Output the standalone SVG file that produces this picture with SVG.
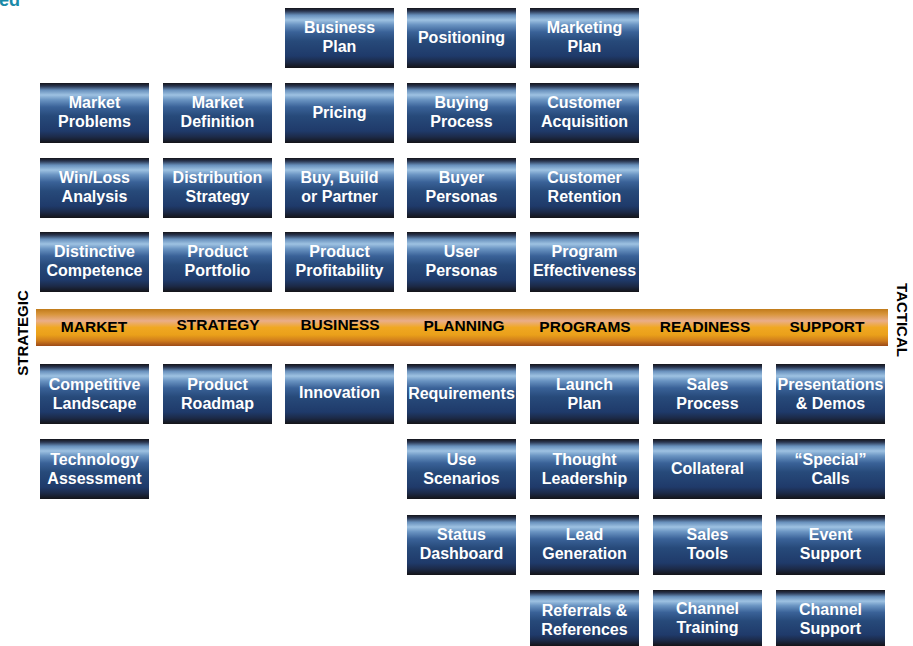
<svg xmlns="http://www.w3.org/2000/svg" width="913" height="646" viewBox="0 0 913 646">
  <defs>
    <linearGradient id="tile" x1="0" y1="0" x2="0" y2="1">
      <stop offset="0" stop-color="#14141a"/>
      <stop offset="0.05" stop-color="#28344e"/>
      <stop offset="0.12" stop-color="#6890bc"/>
      <stop offset="0.2" stop-color="#9ec2e2"/>
      <stop offset="0.28" stop-color="#6a94c2"/>
      <stop offset="0.4" stop-color="#3a6298"/>
      <stop offset="0.55" stop-color="#274a7a"/>
      <stop offset="0.8" stop-color="#1f3a6a"/>
      <stop offset="0.9" stop-color="#1c2a48"/>
      <stop offset="1" stop-color="#141418"/>
    </linearGradient>
    <linearGradient id="band" x1="0" y1="0" x2="0" y2="1">
      <stop offset="0" stop-color="#c07a1a"/>
      <stop offset="0.14" stop-color="#d8953c"/>
      <stop offset="0.32" stop-color="#eaae8a"/>
      <stop offset="0.5" stop-color="#f0a822"/>
      <stop offset="0.7" stop-color="#eaa01a"/>
      <stop offset="0.86" stop-color="#cf7c1c"/>
      <stop offset="1" stop-color="#9c4a18"/>
    </linearGradient>
  </defs>
  <style>
    .tile { fill: url(#tile); }
    .edge { fill: #5aa8d8; opacity: 0.5; }
    .lbl { font-family: "Liberation Sans", Arial, sans-serif; font-weight: bold; font-size: 16px; fill: #ffffff; text-anchor: middle; }
    .cat { font-family: "Liberation Sans", Arial, sans-serif; font-weight: bold; font-size: 15.5px; fill: #000000; text-anchor: middle; }
    .side { font-family: "Liberation Sans", Arial, sans-serif; font-weight: bold; font-size: 15px; fill: #000000; text-anchor: middle; }
    .head { font-family: "Liberation Sans", Arial, sans-serif; font-weight: bold; font-size: 18px; fill: #1a8aa8; text-anchor: end; }
  </style>

  <rect width="913" height="646" fill="#ffffff"/>

  <!-- heading fragment at the top edge -->
  <text class="head" x="20" y="6">ed</text>

  <!-- axis labels -->
  <text class="side" transform="translate(28 333) rotate(-90)">STRATEGIC</text>
  <text class="side" transform="translate(897 320) rotate(90)">TACTICAL</text>

  <!-- category band -->
  <g id="band">
    <rect x="36" y="309" width="852" height="37" fill="url(#band)"/>
    <text class="cat" x="94" y="332">MARKET</text>
    <text class="cat" x="218" y="330">STRATEGY</text>
    <text class="cat" x="340" y="330">BUSINESS</text>
    <text class="cat" x="464" y="331">PLANNING</text>
    <text class="cat" x="585" y="332">PROGRAMS</text>
    <text class="cat" x="705" y="332">READINESS</text>
    <text class="cat" x="827" y="332">SUPPORT</text>
  </g>

  <g id="connectors"/>

  <!-- row 1 -->
  <g id="business-plan"><rect class="tile" x="285" y="8" width="109" height="60"/><text class="lbl" x="339.5" y="33">Business</text><text class="lbl" x="339.5" y="52">Plan</text></g>
  <g id="positioning"><rect class="tile" x="407" y="8" width="109" height="60"/><text class="lbl" x="461.5" y="43">Positioning</text></g>
  <g id="marketing-plan"><rect class="tile" x="530" y="8" width="109" height="60"/><text class="lbl" x="584.5" y="33">Marketing</text><text class="lbl" x="584.5" y="52">Plan</text></g>

  <!-- row 2 -->
  <g id="market-problems"><rect class="tile" x="40" y="83" width="109" height="60"/><text class="lbl" x="94.5" y="108">Market</text><text class="lbl" x="94.5" y="127">Problems</text></g>
  <g id="market-definition"><rect class="tile" x="163" y="83" width="109" height="60"/><text class="lbl" x="217.5" y="108">Market</text><text class="lbl" x="217.5" y="127">Definition</text></g>
  <g id="pricing"><rect class="tile" x="285" y="83" width="109" height="60"/><text class="lbl" x="339.5" y="118">Pricing</text></g>
  <g id="buying-process"><rect class="tile" x="407" y="83" width="109" height="60"/><text class="lbl" x="461.5" y="108">Buying</text><text class="lbl" x="461.5" y="127">Process</text></g>
  <g id="customer-acquisition"><rect class="tile" x="530" y="83" width="109" height="60"/><text class="lbl" x="584.5" y="108">Customer</text><text class="lbl" x="584.5" y="127">Acquisition</text></g>

  <!-- row 3 -->
  <g id="win-loss-analysis"><rect class="tile" x="40" y="158" width="109" height="60"/><text class="lbl" x="94.5" y="183">Win/Loss</text><text class="lbl" x="94.5" y="202">Analysis</text></g>
  <g id="distribution-strategy"><rect class="tile" x="163" y="158" width="109" height="60"/><text class="lbl" x="217.5" y="183">Distribution</text><text class="lbl" x="217.5" y="202">Strategy</text></g>
  <g id="buy-build-partner"><rect class="tile" x="285" y="158" width="109" height="60"/><text class="lbl" x="339.5" y="183">Buy, Build</text><text class="lbl" x="339.5" y="202">or Partner</text></g>
  <g id="buyer-personas"><rect class="tile" x="407" y="158" width="109" height="60"/><text class="lbl" x="461.5" y="183">Buyer</text><text class="lbl" x="461.5" y="202">Personas</text></g>
  <g id="customer-retention"><rect class="tile" x="530" y="158" width="109" height="60"/><text class="lbl" x="584.5" y="183">Customer</text><text class="lbl" x="584.5" y="202">Retention</text></g>

  <!-- row 4 -->
  <g id="distinctive-competence"><rect class="tile" x="40" y="232" width="109" height="60"/><text class="lbl" x="94.5" y="257">Distinctive</text><text class="lbl" x="94.5" y="276">Competence</text></g>
  <g id="product-portfolio"><rect class="tile" x="163" y="232" width="109" height="60"/><text class="lbl" x="217.5" y="257">Product</text><text class="lbl" x="217.5" y="276">Portfolio</text></g>
  <g id="product-profitability"><rect class="tile" x="285" y="232" width="109" height="60"/><text class="lbl" x="339.5" y="257">Product</text><text class="lbl" x="339.5" y="276">Profitability</text></g>
  <g id="user-personas"><rect class="tile" x="407" y="232" width="109" height="60"/><text class="lbl" x="461.5" y="257">User</text><text class="lbl" x="461.5" y="276">Personas</text></g>
  <g id="program-effectiveness"><rect class="tile" x="530" y="232" width="109" height="60"/><text class="lbl" x="584.5" y="257">Program</text><text class="lbl" x="584.5" y="276">Effectiveness</text></g>

  <!-- row 5 -->
  <g id="competitive-landscape"><rect class="tile" x="40" y="364" width="109" height="60"/><text class="lbl" x="94.5" y="390">Competitive</text><text class="lbl" x="94.5" y="409">Landscape</text></g>
  <g id="product-roadmap"><rect class="tile" x="163" y="364" width="109" height="60"/><text class="lbl" x="217.5" y="390">Product</text><text class="lbl" x="217.5" y="409">Roadmap</text></g>
  <g id="innovation"><rect class="tile" x="285" y="364" width="109" height="60"/><text class="lbl" x="339.5" y="398">Innovation</text></g>
  <g id="requirements"><rect class="tile" x="407" y="364" width="109" height="60"/><text class="lbl" x="461.5" y="399">Requirements</text></g>
  <g id="launch-plan"><rect class="tile" x="530" y="364" width="109" height="60"/><text class="lbl" x="584.5" y="390">Launch</text><text class="lbl" x="584.5" y="409">Plan</text></g>
  <g id="sales-process"><rect class="tile" x="653" y="364" width="109" height="60"/><text class="lbl" x="707.5" y="390">Sales</text><text class="lbl" x="707.5" y="409">Process</text></g>
  <g id="presentations-demos"><rect class="tile" x="776" y="364" width="109" height="60"/><text class="lbl" x="830.5" y="390">Presentations</text><text class="lbl" x="830.5" y="409">&amp; Demos</text></g>

  <!-- row 6 -->
  <g id="technology-assessment"><rect class="tile" x="40" y="439" width="109" height="60"/><text class="lbl" x="94.5" y="465">Technology</text><text class="lbl" x="94.5" y="484">Assessment</text></g>
  <g id="use-scenarios"><rect class="tile" x="407" y="439" width="109" height="60"/><text class="lbl" x="461.5" y="465">Use</text><text class="lbl" x="461.5" y="484">Scenarios</text></g>
  <g id="thought-leadership"><rect class="tile" x="530" y="439" width="109" height="60"/><text class="lbl" x="584.5" y="465">Thought</text><text class="lbl" x="584.5" y="484">Leadership</text></g>
  <g id="collateral"><rect class="tile" x="653" y="439" width="109" height="60"/><text class="lbl" x="707.5" y="474">Collateral</text></g>
  <g id="special-calls"><rect class="tile" x="776" y="439" width="109" height="60"/><text class="lbl" x="830.5" y="465">“Special”</text><text class="lbl" x="830.5" y="484">Calls</text></g>

  <!-- row 7 -->
  <g id="status-dashboard"><rect class="tile" x="407" y="515" width="109" height="60"/><text class="lbl" x="461.5" y="540">Status</text><text class="lbl" x="461.5" y="559">Dashboard</text></g>
  <g id="lead-generation"><rect class="tile" x="530" y="515" width="109" height="60"/><text class="lbl" x="584.5" y="540">Lead</text><text class="lbl" x="584.5" y="559">Generation</text></g>
  <g id="sales-tools"><rect class="tile" x="653" y="515" width="109" height="60"/><text class="lbl" x="707.5" y="540">Sales</text><text class="lbl" x="707.5" y="559">Tools</text></g>
  <g id="event-support"><rect class="tile" x="776" y="515" width="109" height="60"/><text class="lbl" x="830.5" y="540">Event</text><text class="lbl" x="830.5" y="559">Support</text></g>

  <!-- row 8 -->
  <g id="referrals-references"><rect class="tile" x="530" y="590" width="109" height="56"/><text class="lbl" x="584.5" y="616">Referrals &amp;</text><text class="lbl" x="584.5" y="635">References</text></g>
  <g id="channel-training"><rect class="tile" x="653" y="590" width="109" height="56"/><text class="lbl" x="707.5" y="614">Channel</text><text class="lbl" x="707.5" y="633">Training</text></g>
  <g id="channel-support"><rect class="tile" x="776" y="590" width="109" height="56"/><text class="lbl" x="830.5" y="615">Channel</text><text class="lbl" x="830.5" y="634">Support</text></g>
</svg>
